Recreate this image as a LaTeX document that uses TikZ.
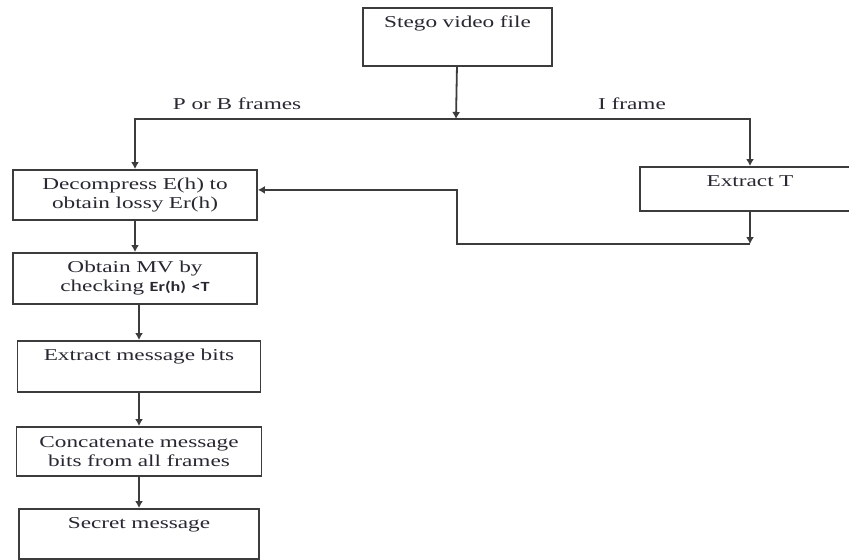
\documentclass[tikz,border=0pt]{standalone}
\usepackage{fontspec}
\setmainfont[FakeStretch=1.4]{Liberation Serif}
\newfontfamily\mathsans[FakeStretch=1.3]{Carlito}
\usepackage{tikz}
\usetikzlibrary{arrows.meta, positioning, calc}
\definecolor{InkGrau}{RGB}{40,40,50}
\definecolor{LineGrau}{RGB}{60,60,60}

\tikzset{
  box/.style={draw=LineGrau, line width=0.9pt, rectangle, anchor=north,
    align=center, inner xsep=2pt, text=InkGrau,
    font=\fontsize{8.3}{9.5}\selectfont},
  topbox/.style={box, text height=6pt, inner ysep=4pt},
  flow/.style={draw=LineGrau, line width=0.9pt, -{Latex[length=3.5pt,width=4pt]}},
  branch/.style={text=InkGrau, font=\fontsize{8.3}{9.5}\selectfont}
}

\begin{document}
\begin{tikzpicture}[x=0.5pt, y=-0.5pt]
    \useasboundingbox (0,0) rectangle (849,559);
    % boxes
    \node[topbox, text width=90.5pt, text depth=15pt]   (stego)   at (457.5,  7) {Stego video file};
    \node[box, text width=118pt, minimum height=25pt]  (decomp)  at (135, 169) {Decompress E(h) to\\obtain lossy Er(h)};
    \node[topbox, text width=106pt, text depth=8pt]    (extT)    at (750, 166) {Extract T};
    \node[box, text width=118pt, minimum height=25.5pt] (obtain) at (135, 252) {Obtain MV by\\checking {\mathsans\bfseries\fontsize{7}{9.5}\selectfont Er(h) <T}};
    \node[topbox, text width=117.5pt, text depth=11.5pt] (bits)  at (139, 340) {Extract message bits};
    \node[box, text width=118.5pt, minimum height=24.5pt] (concat) at (139, 426) {Concatenate message\\bits from all frames};
    \node[topbox, text width=116pt, text depth=11pt]   (secret)  at (139, 508) {Secret message};
    % branch labels
    \node[branch] (pb) at (237, 104) {P or B frames};
    \node[branch] (ifr) at (632, 104) {I frame};
    % junctions
    \coordinate (split) at (456, 119);
    \coordinate (ret)   at (750, 244);
    \coordinate (bend)  at (457, 244);
    % connectors
    \draw[flow] (stego) -- (split);
    \draw[flow] (split) -| (decomp.north);
    \draw[flow] (split) -| (extT.north);
    \draw[flow] (extT) -- (ret);
    \draw[flow] (ret) -- (bend) |- ([yshift=2.5pt]decomp.east);
    \draw[flow] (decomp) -- (obtain);
    \draw[flow] (bits.north |- obtain.south) -- (bits.north);
    \draw[flow] (bits) -- (concat);
    \draw[flow] (concat) -- (secret);
\end{tikzpicture}
\end{document}
